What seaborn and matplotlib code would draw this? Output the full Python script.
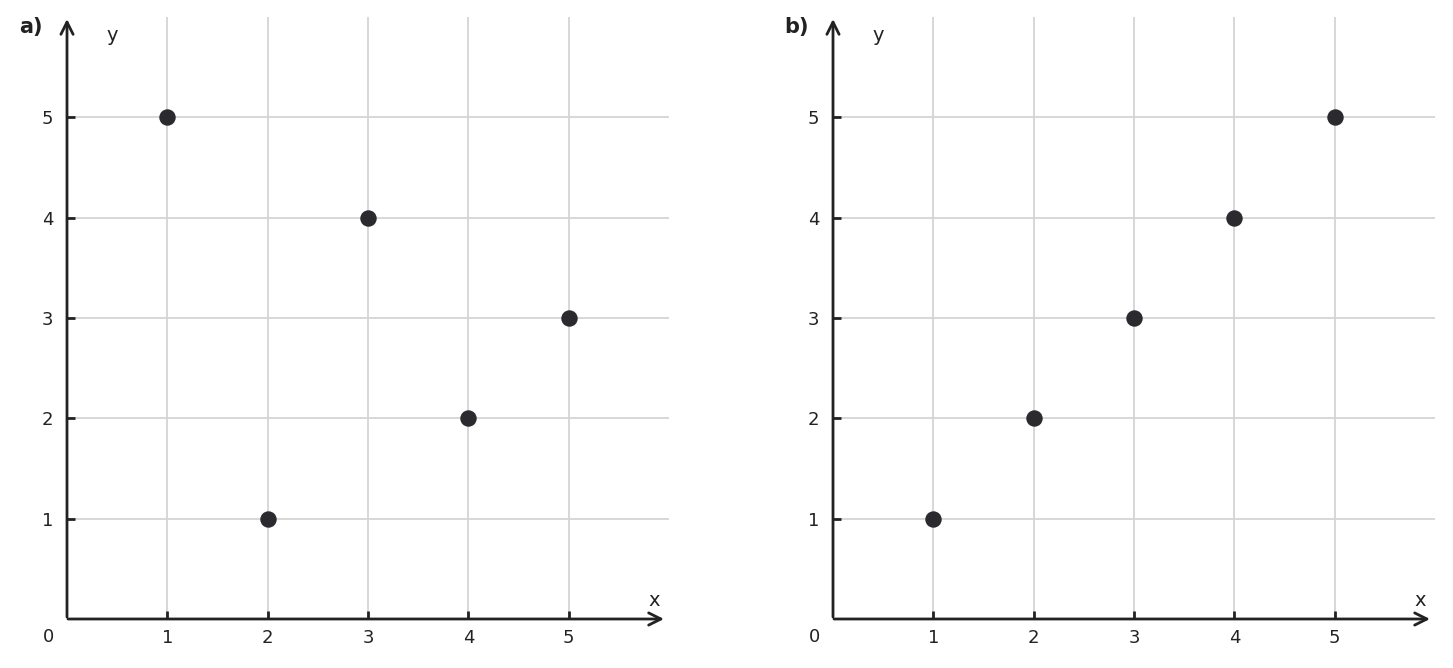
import matplotlib
matplotlib.use("Agg")
import matplotlib.pyplot as plt
import seaborn as sns
import pandas as pd

sns.set_style("whitegrid")
plt.rcParams['font.family'] = ['DejaVu Sans']

# data
x_vals = [1, 2, 3, 4, 5]
y_a = [5, 1, 4, 2, 3]
y_b = [1, 2, 3, 4, 5]
ticks = [1, 2, 3, 4, 5]
panels = [("a)", y_a), ("b)", y_b)]

dark = "#222222"
fig = plt.figure(figsize=(14.53, 6.68), dpi=100)
lefts = [67 / 1453, 833 / 1453]

for (label, ys), left in zip(panels, lefts):
    ax = fig.add_axes([left, 49 / 668, 602 / 1453, 602 / 668])
    df = pd.DataFrame({"x": x_vals, "y": ys})
    sns.scatterplot(data=df, x="x", y="y", ax=ax, s=140, color="#2b2b2f",
                    edgecolor="#2b2b2f", linewidth=0, zorder=5, clip_on=False)
    ax.set_xlim(0, 6)
    ax.set_ylim(0, 6)
    ax.set_xticks(ticks)
    ax.set_yticks(ticks)
    ax.grid(True, color="#d4d4d4", linewidth=1.3)
    for s in ax.spines.values():
        s.set_visible(False)
    ax.tick_params(axis="both", direction="in", length=6, width=2, color=dark,
                   bottom=True, left=True, labelsize=13, labelcolor=dark, pad=7)
    ax.tick_params(axis="y", pad=10)
    ax.set_xlabel("")
    ax.set_ylabel("")
    # axis arrows
    arrow = dict(arrowstyle="->", lw=2, color=dark, mutation_scale=22,
                 shrinkA=0, shrinkB=0)
    ax.annotate("", xy=(5.95, 0), xytext=(0.01, 0), arrowprops=arrow,
                annotation_clip=False)
    ax.annotate("", xy=(0, 5.98), xytext=(0, 0.02), arrowprops=arrow,
                annotation_clip=False)
    ax.text(-0.18, -0.18, "0", ha="center", va="center", fontsize=13, color=dark)
    ax.text(5.85, 0.18, "x", ha="center", va="center", fontsize=14, color=dark)
    ax.text(0.45, 5.82, "y", ha="center", va="center", fontsize=14, color=dark)
    ax.text(-0.36, 5.9, label, ha="center", va="center", fontsize=15,
            fontweight="bold", color=dark)

fig.savefig("out.png", dpi=100)
